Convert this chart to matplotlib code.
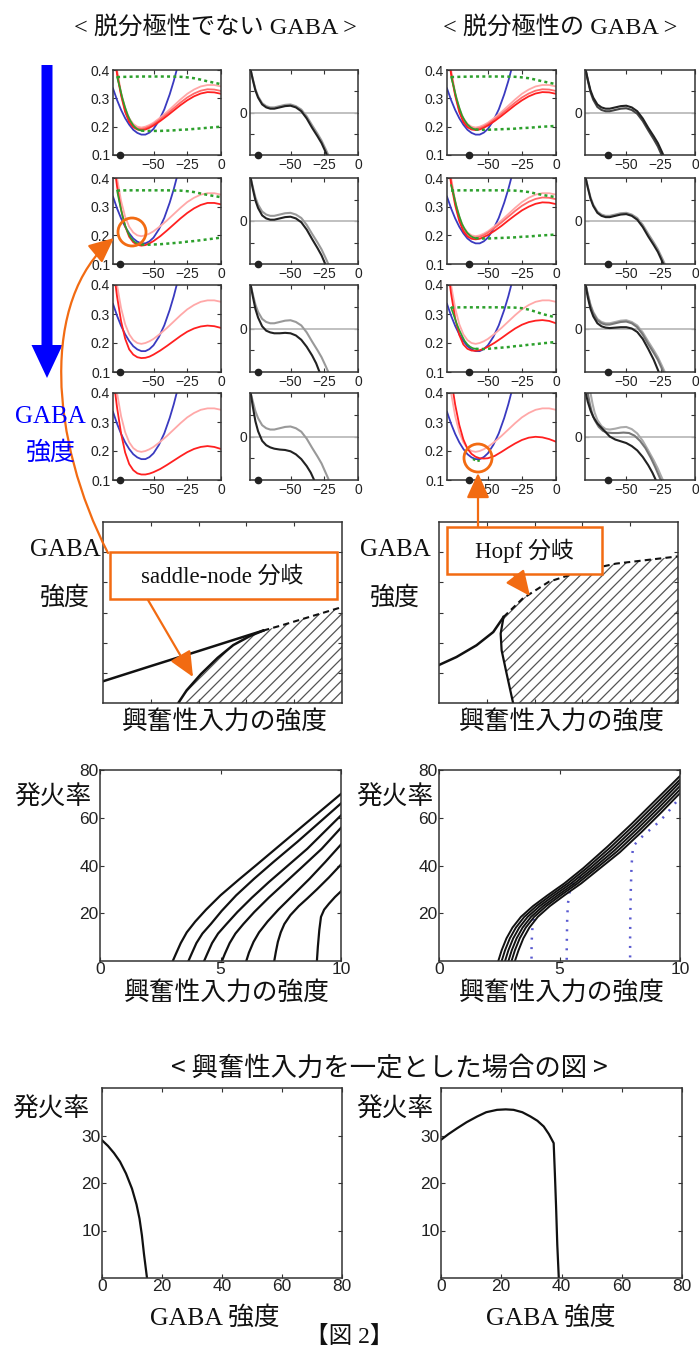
import matplotlib
matplotlib.use('Agg')
import matplotlib.pyplot as plt
from matplotlib.patches import Rectangle, Circle, FancyArrow, FancyArrowPatch
from matplotlib.path import Path

plt.rcParams['font.family'] = ['Liberation Sans', 'Noto Sans CJK JP']
plt.rcParams['hatch.linewidth'] = 0.9
plt.rcParams['hatch.color'] = '#444444'

# ---------------- data: phase-plane panels ----------------
VX = [-80, -77, -74, -71, -68, -65, -62, -59, -56, -53, -50, -45, -40, -35, -30, -25, -20, -15, -10, -5, 0]
PINK = [0.52, 0.40, 0.32, 0.265, 0.23, 0.21, 0.20, 0.197, 0.20, 0.206, 0.214, 0.232, 0.252, 0.274, 0.296, 0.316, 0.331, 0.342, 0.347, 0.347, 0.342]
RED_R1A = [0.50, 0.39, 0.315, 0.258, 0.222, 0.203, 0.194, 0.192, 0.195, 0.201, 0.209, 0.226, 0.245, 0.265, 0.285, 0.303, 0.317, 0.327, 0.332, 0.331, 0.326]
RED_R1B = [0.49, 0.385, 0.31, 0.252, 0.216, 0.198, 0.19, 0.188, 0.19, 0.196, 0.204, 0.22, 0.238, 0.257, 0.276, 0.293, 0.307, 0.317, 0.322, 0.321, 0.316]
RED_L2 = [0.48, 0.37, 0.29, 0.232, 0.195, 0.176, 0.167, 0.164, 0.166, 0.172, 0.18, 0.197, 0.217, 0.238, 0.259, 0.278, 0.294, 0.306, 0.313, 0.313, 0.308]
RED_L3 = [0.47, 0.36, 0.275, 0.215, 0.178, 0.16, 0.151, 0.148, 0.149, 0.153, 0.16, 0.174, 0.19, 0.207, 0.224, 0.239, 0.25, 0.257, 0.26, 0.258, 0.252]
RED_L4 = [0.46, 0.35, 0.26, 0.195, 0.155, 0.134, 0.123, 0.119, 0.119, 0.122, 0.127, 0.138, 0.152, 0.167, 0.182, 0.196, 0.207, 0.214, 0.217, 0.214, 0.207]
RED_R2 = [0.49, 0.38, 0.305, 0.25, 0.214, 0.196, 0.188, 0.186, 0.188, 0.194, 0.201, 0.216, 0.233, 0.252, 0.27, 0.287, 0.3, 0.31, 0.315, 0.314, 0.309]
RED_R3 = [0.48, 0.37, 0.285, 0.228, 0.195, 0.18, 0.174, 0.173, 0.175, 0.18, 0.187, 0.201, 0.217, 0.234, 0.25, 0.263, 0.272, 0.277, 0.279, 0.276, 0.268]
RED_R4 = [0.55, 0.45, 0.36, 0.29, 0.24, 0.208, 0.19, 0.18, 0.175, 0.174, 0.175, 0.183, 0.197, 0.212, 0.226, 0.238, 0.246, 0.249, 0.247, 0.241, 0.232]

BLUE_X = [-80, -77, -74, -71, -68, -65, -62, -59, -56, -53, -50, -46, -42, -38, -35, -32]
BLUE_Y = [0.335, 0.294, 0.259, 0.230, 0.207, 0.189, 0.178, 0.172, 0.172, 0.179, 0.192, 0.221, 0.261, 0.314, 0.361, 0.415]

GU_X = [-77, -70, -60, -50, -40, -30, -25, -20, -15, -10, -5, 0]
GU_A = [0.375, 0.376, 0.377, 0.377, 0.377, 0.376, 0.374, 0.371, 0.366, 0.36, 0.355, 0.35]
GU_B = [0.356, 0.357, 0.357, 0.357, 0.357, 0.356, 0.354, 0.351, 0.346, 0.341, 0.337, 0.333]
GU_C = [0.322, 0.323, 0.323, 0.323, 0.323, 0.322, 0.32, 0.315, 0.308, 0.3, 0.294, 0.288]
GL_X = [-59, -55, -50, -45, -40, -35, -30, -25, -20, -15, -10, -5, 0]
GL_A = [0.186, 0.185, 0.185, 0.185, 0.186, 0.187, 0.189, 0.19, 0.192, 0.194, 0.196, 0.198, 0.2]
GL_B = [0.168, 0.167, 0.168, 0.169, 0.171, 0.173, 0.175, 0.178, 0.18, 0.183, 0.186, 0.189, 0.192]
GL_C = [0.19, 0.189, 0.189, 0.19, 0.191, 0.192, 0.193, 0.195, 0.196, 0.198, 0.2, 0.201, 0.203]
GL_D = [0.18, 0.179, 0.18, 0.182, 0.184, 0.186, 0.189, 0.191, 0.194, 0.196, 0.199, 0.201, 0.204]
GD_X = [-77, -75, -73, -71, -69, -67, -65, -63, -61, -59]
GD_A = [0.375, 0.34, 0.3, 0.268, 0.24, 0.22, 0.205, 0.195, 0.189, 0.186]
GD_B = [0.356, 0.31, 0.268, 0.235, 0.21, 0.193, 0.181, 0.174, 0.17, 0.168]
GD_C = [0.375, 0.34, 0.3, 0.268, 0.24, 0.222, 0.208, 0.199, 0.193, 0.19]
GD_D = [0.322, 0.295, 0.268, 0.245, 0.225, 0.207, 0.195, 0.187, 0.182, 0.18]
GS_X = [-61, -58, -55]
GS_Y = [0.172, 0.165, 0.168]

# ---------------- data: dV/dt panels ----------------
KX = [-79.5, -78, -76, -74, -71, -68, -65, -62, -58, -54, -50, -46, -42, -38, -34, -30, -27, -24, -22]
K1 = [1.0, 0.78, 0.52, 0.35, 0.19, 0.12, 0.09, 0.09, 0.12, 0.15, 0.16, 0.12, 0.03, -0.14, -0.36, -0.56, -0.72, -0.93, -1.08]
K2 = [1.0, 0.76, 0.48, 0.30, 0.13, 0.06, 0.03, 0.03, 0.06, 0.09, 0.10, 0.06, -0.03, -0.20, -0.42, -0.63, -0.80, -1.02, -1.18]
KG = [1.0, 0.80, 0.55, 0.38, 0.22, 0.15, 0.12, 0.12, 0.15, 0.18, 0.19, 0.15, 0.07, -0.09, -0.30, -0.50, -0.66, -0.86, -1.0]
K4G = [1.0, 0.82, 0.58, 0.42, 0.26, 0.19, 0.16, 0.16, 0.19, 0.22, 0.23, 0.19, 0.11, -0.05, -0.26, -0.46, -0.62, -0.83, -0.97]
R3K = [1.0, 0.72, 0.45, 0.28, 0.12, 0.05, 0.02, 0.01, 0.02, 0.03, 0.03, 0.0, -0.08, -0.24, -0.47, -0.72, -0.95, -1.2, -1.35]
K3X = [-79.5, -78, -76, -74, -71, -68, -65, -62, -58, -54, -50, -46, -42, -38, -34, -31, -28.5]
K3 = [1.0, 0.75, 0.45, 0.25, 0.05, -0.05, -0.09, -0.11, -0.11, -0.10, -0.11, -0.16, -0.26, -0.42, -0.62, -0.80, -1.0]
K4X = [-79.5, -78, -76, -74, -71, -68, -65, -62, -58, -54, -50, -46, -42, -38, -35, -32.5]
K4 = [1.0, 0.7, 0.35, 0.12, -0.1, -0.2, -0.25, -0.28, -0.3, -0.31, -0.34, -0.41, -0.52, -0.68, -0.83, -1.0]
R4K = [1.0, 0.8, 0.6, 0.45, 0.3, 0.2, 0.1, 0.0, -0.07, -0.11, -0.15, -0.22, -0.32, -0.47, -0.66, -0.83, -1.0]
R4M_X = [-78, -76.5, -75, -73, -70, -67, -64, -60, -56, -52, -48, -44, -40, -36, -32, -29, -26, -25]
R4M = [1.0, 0.75, 0.55, 0.38, 0.22, 0.13, 0.09, 0.08, 0.08, 0.09, 0.08, 0.02, -0.1, -0.27, -0.5, -0.7, -0.92, -1.0]
R4G_X = [-76, -74.5, -73, -71, -68, -65, -62, -58, -54, -50, -46, -42, -38, -34, -30, -27, -24, -23]
R4G = [1.0, 0.75, 0.55, 0.38, 0.24, 0.17, 0.16, 0.18, 0.21, 0.22, 0.17, 0.07, -0.1, -0.32, -0.55, -0.74, -0.96, -1.02]
DOT_X = [-75, -74, -64, -63]   # resting-point marker per column

# ---------------- data: bifurcation diagrams ----------------
SN_LINE_X = [0.0, 0.2, 0.4, 0.55, 0.67]
SN_LINE_Y = [0.12, 0.204, 0.287, 0.35, 0.40]
SN_DASH_X = [0.67, 0.75, 0.85, 1.0]
SN_DASH_Y = [0.40, 0.43, 0.47, 0.53]
SN_FOLD_X = [0.315, 0.35, 0.41, 0.48, 0.545, 0.615, 0.67]
SN_FOLD_Y = [0.0, 0.07, 0.16, 0.25, 0.32, 0.37, 0.40]
HB_LINE_X = [0.0, 0.073, 0.157, 0.227, 0.27]
HB_LINE_Y = [0.21, 0.254, 0.319, 0.392, 0.475]
HB_FOLD_X = [0.27, 0.258, 0.262, 0.283, 0.31]
HB_FOLD_Y = [0.475, 0.383, 0.291, 0.162, 0.0]
HB_DASH_X = [0.27, 0.35, 0.46, 0.6, 0.74, 1.0]
HB_DASH_Y = [0.475, 0.577, 0.67, 0.73, 0.77, 0.81]

# ---------------- data: firing rate vs input ----------------
F1_X = [3.02, 3.15, 3.35, 3.6, 3.95, 4.4, 5.0, 5.75, 6.5, 7.5, 8.5, 10.0]
F1_Y = [0, 3, 7.5, 12, 16.5, 21.5, 27.5, 34, 40.3, 48.8, 57.3, 70]
F2_X = [3.67, 3.8, 4.0, 4.25, 4.6, 5.05, 5.65, 6.4, 7.2, 8.2, 9.1, 10.0]
F2_Y = [0, 3, 7.5, 11.5, 15.5, 21, 27.5, 34.5, 41.5, 50, 58, 66]
F3_X = [4.32, 4.45, 4.65, 4.9, 5.25, 5.7, 6.3, 7.0, 7.8, 8.6, 9.3, 10.0]
F3_Y = [0, 3, 7.5, 11.5, 15.5, 20.5, 26.5, 33, 40, 47, 54, 61]
F4_X = [5.06, 5.18, 5.38, 5.62, 5.95, 6.4, 7.0, 7.7, 8.4, 9.2, 10.0]
F4_Y = [0, 3, 7.5, 11.5, 15.5, 20.5, 26.5, 33, 39.5, 47, 55.8]
F5_X = [6.07, 6.18, 6.37, 6.6, 6.95, 7.4, 8.0, 8.7, 9.35, 10.0]
F5_Y = [0, 3.5, 8, 12, 16.5, 21.5, 27.5, 34.5, 41.5, 48.8]
F6_X = [7.23, 7.3, 7.38, 7.5, 7.65, 7.9, 8.25, 8.6, 9.0, 9.5, 10.0]
F6_Y = [0, 4, 8, 12, 15.5, 19.2, 23, 26.2, 30, 35, 40.4]
F7_X = [9.0, 9.04, 9.1, 9.17, 9.3, 9.5, 9.75, 10.0]
F7_Y = [0, 6, 13, 18.5, 21.5, 24, 26.8, 29.2]

B1_X = [2.46, 2.6, 2.8, 3.05, 3.4, 3.9, 4.5, 5.2, 6.0, 7.0, 8.0, 9.0, 10.0]
B1_Y = [0, 4.5, 9.5, 14, 18.5, 23, 27.5, 32.5, 39, 48, 57.5, 67.5, 77.5]
B2_X = [2.6, 2.74, 2.94, 3.19, 3.54, 4.04, 4.64, 5.34, 6.14, 7.1, 8.1, 9.05, 10.0]
B2_Y = [0, 4.5, 9.5, 14, 18.5, 23, 27.5, 32.5, 39, 47.5, 57, 66.5, 76]
B3_X = [2.74, 2.88, 3.08, 3.33, 3.68, 4.18, 4.78, 5.48, 6.28, 7.2, 8.15, 9.1, 10.0]
B3_Y = [0, 4.5, 9.5, 14, 18.5, 23, 27.5, 32.5, 39, 47, 56, 65.5, 74.8]
B4_X = [2.88, 3.02, 3.22, 3.47, 3.82, 4.32, 4.92, 5.62, 6.42, 7.3, 8.2, 9.1, 10.0]
B4_Y = [0, 4.5, 9.5, 14, 18.5, 23, 27.5, 32.5, 39, 46.5, 55, 64, 73.3]
B5_X = [3.01, 3.15, 3.35, 3.6, 3.95, 4.45, 5.05, 5.75, 6.55, 7.4, 8.3, 9.15, 10.0]
B5_Y = [0, 4.5, 9.5, 14, 18.5, 23, 27.5, 32.5, 39, 46, 54.5, 63, 71.8]
B6_X = [3.15, 3.3, 3.5, 3.75, 4.1, 4.6, 5.2, 5.9, 6.7, 7.5, 8.4, 9.2, 10.0]
B6_Y = [0, 4.5, 9.5, 14, 18.5, 23, 27.5, 32.5, 39, 45.5, 54, 62, 70.3]
D1_X = [3.84, 3.84, 3.85, 3.87, 3.92, 4.0]
D1_Y = [1, 5, 9, 13, 17, 20.5]
D2_X = [5.3, 5.3, 5.31, 5.32, 5.35, 5.42, 5.55, 5.8, 6.1]
D2_Y = [0.5, 6, 12, 18, 24, 29, 32, 34.5, 37]
D3_X = [7.93, 7.93, 7.94, 7.96, 7.99, 8.05, 8.28, 8.56, 8.91, 9.4, 9.75, 10.0]
D3_Y = [1.5, 10, 20, 30, 40, 48, 50.6, 53.4, 56.2, 61.1, 65.5, 68.5]

# ---------------- data: firing rate vs GABA ----------------
BL_X = [0, 2, 4, 6, 8, 10, 11.5, 12.5, 13.3, 14.0, 14.6, 15.0]
BL_Y = [29, 27.8, 26.3, 24.5, 22, 18.8, 15.5, 12.5, 9, 5, 2, 0]
BR_X = [0, 2.5, 5.3, 8.5, 12, 15, 18.6, 21.5, 24.1, 27, 29.7, 32, 34.1, 35.8, 37.4, 37.8, 38.2, 38.6, 39.1]
BR_Y = [29.1, 30.3, 31.5, 32.8, 34, 34.9, 35.4, 35.5, 35.4, 34.9, 34, 33.1, 31.9, 30.3, 28.4, 22, 15, 7, 0]

PHASE_TICKS_X = [-50, -25, 0]
PHASE_TICKS_Y = [0.1, 0.2, 0.3, 0.4]
RATE_TICKS_X = [0, 5, 10]
RATE_TICKS_Y = [20, 40, 60, 80]
GABA_TICKS_X = [0, 20, 40, 60, 80]
GABA_TICKS_Y = [10, 20, 30]

# ---------------- styling ----------------
W, H = 699, 1351
fig = plt.figure(figsize=(W / 100, H / 100), dpi=100)
JP = ['Noto Sans CJK JP', 'DejaVu Sans']
MIX = ['Liberation Serif', 'Noto Sans CJK JP']
ORANGE = '#f26b12'
C_PINK, C_RED1, C_RED2 = '#ffa8a8', '#ff6a6a', '#ff2020'
C_BLUE = '#3a3ac0'
C_GREEN = '#2ca02c'
FRAME = '#333333'


def px_axes(l, t, r, b):
    return fig.add_axes([l / W, 1 - b / H, (r - l) / W, (b - t) / H])


def style(ax, fs, length=3, pad=2):
    ax.tick_params(direction='in', top=True, right=True, length=length,
                   labelsize=fs, pad=pad, colors=FRAME, labelcolor='#222222')
    for s in ax.spines.values():
        s.set_color(FRAME)
        s.set_linewidth(1.1)


COLS_X = [(113, 221), (250, 358), (447, 556), (585, 695)]
ROWS_Y = [(70, 155), (178, 264), (285, 372), (393, 480)]

phase_cfg = {
    0: [([PINK, RED_R1A, RED_R1B], (GU_A, GL_A, GD_A)),
        ([PINK, RED_L2], (GU_B, GL_B, GD_B)),
        ([PINK, RED_L3], None),
        ([PINK, RED_L4], None)],
    2: [([PINK, RED_R1A, RED_R1B], (GU_A, GL_C, GD_C)),
        ([PINK, RED_R1A, RED_R2], (GU_B, GL_C, GD_C)),
        ([PINK, RED_R3], (GU_C, GL_D, GD_D)),
        ([PINK, RED_R4], 'small')],
}
dvdt_cfg = {
    1: [[(KX, KG, '#999999'), (KX, K1, '#222222')],
        [(KX, KG, '#999999'), (KX, K2, '#222222')],
        [(KX, KG, '#999999'), (K3X, K3, '#222222')],
        [(KX, K4G, '#999999'), (K4X, K4, '#222222')]],
    3: [[(KX, K2, '#444444'), (KX, K1, '#222222')],
        [(KX, KG, '#999999'), (KX, K1, '#222222')],
        [(KX, KG, '#aaaaaa'), (KX, K1, '#777777'), (KX, R3K, '#222222')],
        [(R4G_X, R4G, '#aaaaaa'), (R4M_X, R4M, '#777777'), (K3X, R4K, '#222222')]],
}
red_colors = [C_PINK, C_RED1, C_RED2]

for ci, (l, r) in enumerate(COLS_X):
    for ri, (t, b) in enumerate(ROWS_Y):
        ax = px_axes(l, t, r, b)
        ax.set_xlim(-80, 0)
        style(ax, 10, pad=2)
        ax.set_xticks(PHASE_TICKS_X)
        ax.set_xticklabels(['\u221250', '\u221225', '0'])
        if ci in phase_cfg:
            reds, greens = phase_cfg[ci][ri]
            ax.set_ylim(0.1, 0.4)
            ax.set_yticks(PHASE_TICKS_Y)
            ax.set_yticklabels(['0.1', '0.2', '0.3', '0.4'])
            ax.plot(BLUE_X, BLUE_Y, color=C_BLUE, lw=1.3)
            if len(reds) == 2:
                cols = [C_PINK, C_RED2]
            else:
                cols = red_colors
            for yv, c in zip(reds, cols):
                ax.plot(VX, yv, color=c, lw=1.3)
            if greens == 'small':
                ax.plot(GS_X, GS_Y, color=C_GREEN, lw=1.5, ls=(0, (1.2, 1.2)))
            elif greens is not None:
                gu, gl, gd = greens
                ax.plot(GU_X, gu, color=C_GREEN, lw=1.8, ls=(0, (1.2, 1.3)))
                ax.plot(GL_X, gl, color=C_GREEN, lw=1.8, ls=(0, (1.2, 1.3)))
                ax.plot(GD_X, gd, color=C_GREEN, lw=1.2)
            ax.plot([DOT_X[ci]], [0.1], 'o', color='#222222', ms=4.5, clip_on=False, zorder=5)
        else:
            ax.set_ylim(-1, 1)
            ax.set_yticks([-0.5, 0, 0.5])
            ax.set_yticklabels(['', '0', ''])
            ax.axhline(0, color='#bbbbbb', lw=1.3)
            for xs, ys, c in dvdt_cfg[ci][ri]:
                ax.plot(xs, ys, color=c, lw=1.5)
            ax.plot([DOT_X[ci]], [-1], 'o', color='#222222', ms=4.5, clip_on=False, zorder=5)

# ---------------- bifurcation diagrams ----------------
axL = px_axes(103, 522, 342, 703)
axR = px_axes(439, 522, 678, 703)
for ax in (axL, axR):
    ax.set_xlim(0, 1)
    ax.set_ylim(0, 1)
    style(ax, 8)
    ax.set_xticks([0.2, 0.4, 0.6, 0.8])
    ax.set_yticks([1 / 6, 2 / 6, 3 / 6, 4 / 6, 5 / 6])
    ax.set_xticklabels([])
    ax.set_yticklabels([])

axL.fill(SN_FOLD_X + SN_DASH_X[1:] + [1.0], SN_FOLD_Y + SN_DASH_Y[1:] + [0.0],
         hatch='///', fill=False, lw=0, edgecolor='#555555')
axL.plot(SN_LINE_X, SN_LINE_Y, color='#111111', lw=1.8)
axL.plot(SN_FOLD_X, SN_FOLD_Y, color='#111111', lw=1.8)
axL.plot(SN_DASH_X, SN_DASH_Y, color='#111111', lw=1.5, ls=(0, (3, 2)))

hb_poly_x = HB_FOLD_X[::-1] + HB_DASH_X[1:] + [1.0]
hb_poly_y = HB_FOLD_Y[::-1] + HB_DASH_Y[1:] + [0.0]
axR.fill(hb_poly_x, hb_poly_y, hatch='///', fill=False, lw=0, edgecolor='#555555')
axR.plot(HB_LINE_X, HB_LINE_Y, color='#111111', lw=1.8)
axR.plot(HB_FOLD_X, HB_FOLD_Y, color='#111111', lw=1.6)
axR.plot(HB_DASH_X, HB_DASH_Y, color='#111111', lw=1.5, ls=(0, (3, 2)))

# ---------------- firing rate vs input ----------------
fL = px_axes(100, 770, 341, 961)
fR = px_axes(439, 770, 680, 961)
for ax in (fL, fR):
    ax.set_xlim(0, 10)
    ax.set_ylim(0, 80)
    style(ax, 12.5, length=3, pad=1)
    ax.set_xticks(RATE_TICKS_X)
    ax.set_yticks(RATE_TICKS_Y)
for xs, ys in [(F1_X, F1_Y), (F2_X, F2_Y), (F3_X, F3_Y), (F4_X, F4_Y),
               (F5_X, F5_Y), (F6_X, F6_Y), (F7_X, F7_Y)]:
    fL.plot(xs, ys, color='#111111', lw=1.6)
for xs, ys in [(D1_X, D1_Y), (D2_X, D2_Y), (D3_X, D3_Y)]:
    fR.plot(xs, ys, color='#5a5ad0', lw=1.8, ls=(0, (0.8, 3.0)))
for xs, ys in [(B1_X, B1_Y), (B2_X, B2_Y), (B3_X, B3_Y), (B4_X, B4_Y),
               (B5_X, B5_Y), (B6_X, B6_Y)]:
    fR.plot(xs, ys, color='#111111', lw=1.4)

# ---------------- firing rate vs GABA ----------------
gL = px_axes(102, 1088, 342, 1278)
gR = px_axes(441, 1088, 682, 1278)
for ax in (gL, gR):
    ax.set_xlim(0, 80)
    ax.set_ylim(0, 40)
    style(ax, 12.5, length=3, pad=1)
    ax.set_xticks(GABA_TICKS_X)
    ax.set_yticks(GABA_TICKS_Y)
gL.plot(BL_X, BL_Y, color='#111111', lw=1.6)
gR.plot(BR_X, BR_Y, color='#111111', lw=1.6)

# ---------------- overlay: texts and annotations ----------------
ov = fig.add_axes([0, 0, 1, 1])
ov.set_xlim(0, W)
ov.set_ylim(H, 0)
ov.axis('off')
ov.patch.set_alpha(0)
ov.set_zorder(50)


def txt(x, y, s, fs, fam=JP, color='#111111'):
    ov.text(x, y, s, fontsize=fs, family=fam, color=color, ha='center', va='center')


txt(215, 27, '< 脱分極性でない GABA >', 17.5, MIX)
txt(560, 27, '< 脱分極性の GABA >', 17.5, MIX)

ov.add_patch(FancyArrow(47, 65, 0, 313, width=11, head_width=31, head_length=33,
                        length_includes_head=True, color='#0000ff', lw=0))
txt(50, 417, 'GABA', 18, MIX, '#0000ff')
txt(51, 453, '強度', 18, JP, '#0000ff')

txt(65, 550, 'GABA', 18, MIX)
txt(65, 598, '強度', 18, JP)
txt(395, 550, 'GABA', 18, MIX)
txt(395, 598, '強度', 18, JP)
txt(225, 722, '興奮性入力の強度', 18.5)
txt(562, 722, '興奮性入力の強度', 18.5)

ov.add_patch(Rectangle((110, 552), 227, 47, facecolor='white', edgecolor=ORANGE, lw=1.8))
txt(222, 577, 'saddle-node 分岐', 16.5, MIX)
ov.add_patch(Rectangle((447, 527), 155, 47, facecolor='white', edgecolor=ORANGE, lw=1.8))
txt(524, 551, 'Hopf 分岐', 16.5, MIX)

ov.add_patch(Circle((132, 232), 14, fill=False, edgecolor=ORANGE, lw=2))
ov.add_patch(Circle((478, 458), 14, fill=False, edgecolor=ORANGE, lw=2))

curve = Path([(108, 553), (50, 440), (40, 300), (114, 238)],
             [Path.MOVETO, Path.CURVE4, Path.CURVE4, Path.CURVE4])
ov.add_patch(FancyArrowPatch(path=curve, arrowstyle='-|>,head_length=1.1,head_width=0.5',
                             mutation_scale=14, color=ORANGE, lw=1.6))
arrow_kw = dict(arrowstyle='-|>,head_length=1.1,head_width=0.5', mutation_scale=14,
                color=ORANGE, lw=1.6, shrinkA=0, shrinkB=0)
ov.annotate('', xy=(193, 677), xytext=(148, 600), arrowprops=arrow_kw)
ov.annotate('', xy=(478, 473), xytext=(478, 527), arrowprops=arrow_kw)
ov.annotate('', xy=(530, 596), xytext=(514, 575), arrowprops=arrow_kw)

txt(53, 798, '発火率', 18.5)
txt(395, 798, '発火率', 18.5)
txt(227, 993, '興奮性入力の強度', 18.5)
txt(562, 993, '興奮性入力の強度', 18.5)

txt(389, 1068, '< 興奮性入力を一定とした場合の図 >', 19)
txt(51, 1110, '発火率', 18.5)
txt(395, 1110, '発火率', 18.5)
txt(215, 1318, 'GABA 強度', 18.5, MIX)
txt(551, 1318, 'GABA 強度', 18.5, MIX)
txt(349, 1337, '【図 2】', 17, MIX)

fig.savefig('out.png', dpi=100)
